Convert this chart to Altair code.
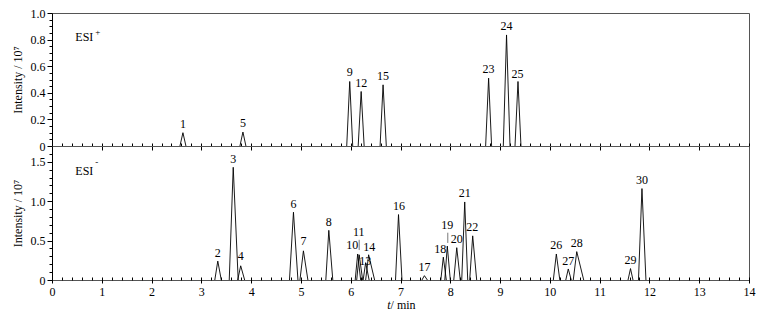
import altair as alt
import pandas as pd

# ---------------- data ----------------
# ESI+ panel
pos_ids = ["1", "5", "9", "12", "15", "23", "24", "25"]
pos_t = [2.63, 3.835, 5.98, 6.21, 6.65, 8.77, 9.13, 9.36]
pos_h = [0.10, 0.105, 0.485, 0.41, 0.46, 0.51, 0.835, 0.485]
pos_wl = [0.06, 0.06, 0.06, 0.06, 0.06, 0.06, 0.065, 0.06]
pos_wr = [0.06, 0.06, 0.06, 0.06, 0.065, 0.06, 0.07, 0.06]
pos_label_t = [2.63, 3.835, 5.98, 6.21, 6.65, 8.77, 9.13, 9.35]
pos_label_v = [0.167, 0.175, 0.56, 0.475, 0.53, 0.58, 0.90, 0.545]

# ESI- panel
neg_ids = ["2", "3", "4", "6", "7", "8", "10", "11", "13", "14", "16", "17",
           "18", "19", "20", "21", "22", "26", "27", "28", "29", "30"]
neg_t = [3.33, 3.64, 3.79, 4.85, 5.05, 5.56, 6.14, 6.17, 6.30, 6.36, 6.96, 7.48,
         7.86, 7.94, 8.13, 8.29, 8.45, 10.13, 10.37, 10.54, 11.62, 11.85]
neg_h = [0.24, 1.43, 0.18, 0.86, 0.37, 0.63, 0.33, 0.32, 0.22, 0.32, 0.83, 0.055,
         0.29, 0.43, 0.41, 0.99, 0.56, 0.33, 0.14, 0.36, 0.145, 1.16]
neg_wl = [0.06, 0.08, 0.06, 0.08, 0.07, 0.06, 0.05, 0.05, 0.05, 0.06, 0.06, 0.05,
          0.05, 0.05, 0.06, 0.06, 0.06, 0.06, 0.05, 0.07, 0.05, 0.07]
neg_wr = [0.07, 0.10, 0.08, 0.09, 0.09, 0.08, 0.06, 0.07, 0.07, 0.12, 0.07, 0.06,
          0.06, 0.06, 0.07, 0.06, 0.08, 0.07, 0.06, 0.14, 0.05, 0.08]
neg_label_t = [3.33, 3.64, 3.79, 4.85, 5.05, 5.56, 6.03, 6.16, 6.29, 6.37, 6.97, 7.48,
               7.80, 7.94, 8.13, 8.29, 8.44, 10.13, 10.37, 10.54, 11.62, 11.85]
neg_label_v = [0.34, 1.53, 0.30, 0.97, 0.50, 0.74, 0.44, 0.61, 0.24, 0.42, 0.94, 0.17,
               0.39, 0.70, 0.52, 1.10, 0.67, 0.445, 0.24, 0.47, 0.25, 1.27]

# leader lines (labels 11 and 19)
lead_t = [6.17, 7.95]
lead_v1 = [0.38, 0.47]
lead_v2 = [0.51, 0.60]

# tick values
x_ticks = [round(i * 0.2, 1) for i in range(71)]
y_top_ticks = [round(i * 0.05, 2) for i in range(21)]
y_bot_ticks = [round(i * 0.1, 1) for i in range(17)]

FONT = "Liberation Serif, Times New Roman, Times, serif"
W = 697
H_TOP = 133
H_BOT = 134


def peaks_table(ids, t, h, wl, wr):
    rows = []
    for pid, tt, hh, a, b in zip(ids, t, h, wl, wr):
        rows.append({"peak": pid, "t": tt - a, "v": 0.0})
        rows.append({"peak": pid, "t": tt, "v": hh})
        rows.append({"peak": pid, "t": tt + b, "v": 0.0})
    return pd.DataFrame(rows)


pos_df = peaks_table(pos_ids, pos_t, pos_h, pos_wl, pos_wr)
neg_df = peaks_table(neg_ids, neg_t, neg_h, neg_wl, neg_wr)
pos_lab = pd.DataFrame({"peak": pos_ids, "t": pos_label_t, "v": pos_label_v})
neg_lab = pd.DataFrame({"peak": neg_ids, "t": neg_label_t, "v": neg_label_v})
lead_df = pd.DataFrame({"t": lead_t, "v": lead_v1, "v2": lead_v2})

xs = alt.Scale(domain=[0, 14], nice=False, zero=False)
ys_top = alt.Scale(domain=[0, 1.0], nice=False)
ys_bot = alt.Scale(domain=[0, 1.7], nice=False)

X_MAJ = "abs(datum.value - round(datum.value)) < 0.001"

x_axis_top = alt.Axis(values=x_ticks, labels=False, title=None, domain=False,
                      offset=-3, grid=False,
                      tickSize={"condition": {"test": X_MAJ, "value": 7}, "value": 3})
x_axis_bot = alt.Axis(values=x_ticks, title=None, domain=False, offset=-3, grid=False,
                      labelExpr=X_MAJ + " ? format(datum.value, 'd') : ''",
                      labelOverlap=False, labelFlush=False, labelPadding=3,
                      labelFontSize=12,
                      tickSize={"condition": {"test": X_MAJ, "value": 6}, "value": 3})

YT_MAJ = "abs(datum.value / 0.2 - round(datum.value / 0.2)) < 0.001"
YB_MAJ = "abs(datum.value / 0.5 - round(datum.value / 0.5)) < 0.001"

y_axis_top = alt.Axis(values=y_top_ticks, title="Intensity / 10\u2077", grid=False,
                      labelExpr=YT_MAJ + " ? (datum.value == 0 ? '0' : format(datum.value, '.1f')) : ''",
                      labelOverlap=False, labelFlush=False, labelPadding=2,
                      labelFontSize=12, titleFontSize=12, titlePadding=6,
                      tickSize={"condition": {"test": YT_MAJ, "value": 5}, "value": 3})
y_axis_bot = alt.Axis(values=y_bot_ticks, title="Intensity / 10\u2077", grid=False,
                      labelExpr=YB_MAJ + " ? (datum.value == 0 ? '0' : format(datum.value, '.1f')) : ''",
                      labelOverlap=False, labelFlush=False, labelPadding=2,
                      labelFontSize=12, titleFontSize=12, titlePadding=6,
                      tickSize={"condition": {"test": YB_MAJ, "value": 5}, "value": 3})


def panel(df, lab, xax, yax, ys, height, ann_t, ann_v, sup_t, sup_v, sup_txt, extra=None):
    base_x = lambda f: alt.X(f, type="quantitative", scale=xs, axis=xax)
    base_y = lambda f: alt.Y(f, type="quantitative", scale=ys, axis=yax)
    lines = alt.Chart(df).mark_line(color="black", strokeWidth=0.9).encode(
        x=base_x("t"), y=base_y("v"), detail="peak:N")
    labels = alt.Chart(lab).mark_text(font=FONT, fontSize=12, baseline="middle",
                                      color="black").encode(
        x=base_x("t"), y=base_y("v"), text="peak:N")
    ann = pd.DataFrame({"t": [ann_t], "v": [ann_v], "txt": ["ESI"]})
    esi = alt.Chart(ann).mark_text(font=FONT, fontSize=12, baseline="middle",
                                   color="black").encode(
        x=base_x("t"), y=base_y("v"), text="txt:N")
    sup = pd.DataFrame({"t": [sup_t], "v": [sup_v], "txt": [sup_txt]})
    esi_sup = alt.Chart(sup).mark_text(font=FONT, fontSize=9, baseline="middle",
                                       color="black").encode(
        x=base_x("t"), y=base_y("v"), text="txt:N")
    layers = [lines, labels, esi, esi_sup]
    if extra is not None:
        layers.extend(extra(base_x, base_y))
    return alt.layer(*layers).properties(width=W, height=height)


def bottom_extra(base_x, base_y):
    leaders = alt.Chart(lead_df).mark_rule(color="#555", strokeWidth=0.8).encode(
        x=base_x("t"), y=base_y("v"), y2="v2:Q")
    t_df = pd.DataFrame({"t": [6.8], "txt": ["t"]})
    tt = alt.Chart(t_df).mark_text(font=FONT, fontSize=12, fontStyle="italic",
                                   align="right", baseline="middle", color="black").encode(
        x=base_x("t"), y=alt.value(H_BOT + 25), text="txt:N")
    m_df = pd.DataFrame({"t": [6.8], "txt": ["\u00a0/ min"]})
    mm = alt.Chart(m_df).mark_text(font=FONT, fontSize=12, align="left",
                                   baseline="middle", color="black").encode(
        x=base_x("t"), y=alt.value(H_BOT + 25), text="txt:N")
    return [leaders, tt, mm]


top = panel(pos_df, pos_lab, x_axis_top, y_axis_top, ys_top, H_TOP,
            0.65, 0.82, 0.92, 0.855, "+")
bot = panel(neg_df, neg_lab, x_axis_bot, y_axis_bot, ys_bot, H_BOT,
            0.65, 1.385, 0.90, 1.50, "-", extra=bottom_extra)

chart = alt.vconcat(top, bot, spacing=0, bounds="flush").properties(
    padding={"left": 10, "top": 6, "right": 5, "bottom": 0}
).configure_axis(
    labelFont=FONT, titleFont=FONT, labelColor="black", titleColor="black",
    domainColor="black", tickColor="black", titleFontWeight="normal",
).configure_view(
    stroke="#555", strokeWidth=1
).configure_text(font=FONT)

chart.save("out.html", embed_options={"renderer": "svg", "actions": False})
